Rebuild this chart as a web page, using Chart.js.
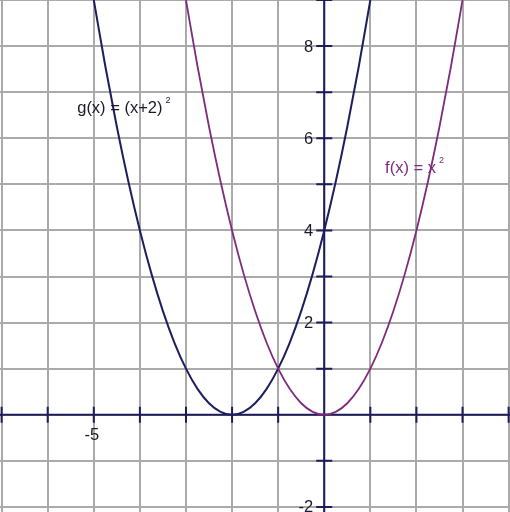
<!DOCTYPE html>
<html>
<head>
<meta charset="utf-8">
<script src="https://cdn.jsdelivr.net/npm/chart.js@4.4.1/dist/chart.umd.min.js"></script>
<style>
  html, body { margin: 0; padding: 0; background: #fff; }
  #wrap { width: 510px; height: 512px; }
</style>
</head>
<body>
<div id="wrap"><canvas id="chart"></canvas></div>
<script>
// f(x) = x^2, read at quarter steps
const fX = [-3, -2.75, -2.5, -2.25, -2, -1.75, -1.5, -1.25, -1, -0.75, -0.5, -0.25, 0,
            0.25, 0.5, 0.75, 1, 1.25, 1.5, 1.75, 2, 2.25, 2.5, 2.75, 3];
const fY = [9, 7.5625, 6.25, 5.0625, 4, 3.0625, 2.25, 1.5625, 1, 0.5625, 0.25, 0.0625, 0,
            0.0625, 0.25, 0.5625, 1, 1.5625, 2.25, 3.0625, 4, 5.0625, 6.25, 7.5625, 9];

// g(x) = (x+2)^2
const gX = [-5, -4.75, -4.5, -4.25, -4, -3.75, -3.5, -3.25, -3, -2.75, -2.5, -2.25, -2,
            -1.75, -1.5, -1.25, -1, -0.75, -0.5, -0.25, 0, 0.25, 0.5, 0.75, 1];
const gY = [9, 7.5625, 6.25, 5.0625, 4, 3.0625, 2.25, 1.5625, 1, 0.5625, 0.25, 0.0625, 0,
            0.0625, 0.25, 0.5625, 1, 1.5625, 2.25, 3.0625, 4, 5.0625, 6.25, 7.5625, 9];

const xGrid = [-7, -6, -5, -4, -3, -2, -1, 0, 1, 2, 3, 4];
const yGrid = [-2, -1, 0, 1, 2, 3, 4, 5, 6, 7, 8, 9];
const xLabels = [-5];
const yLabels = [8, 6, 4, 2, -2];

const AXIS = "#1c1c5a";
const F_COLOR = "#7e2a7e";
const G_COLOR = "#1e1e5e";
const FONT = "16.5px 'Liberation Sans', Arial, sans-serif";

const axesPlugin = {
  id: "axes",
  beforeDatasetsDraw(chart) {
    const { ctx, scales: { x, y } } = chart;
    const x0 = x.getPixelForValue(0), y0 = y.getPixelForValue(0);
    ctx.save();
    ctx.strokeStyle = AXIS;
    ctx.lineWidth = 2;
    ctx.beginPath();
    ctx.moveTo(x.left, y0); ctx.lineTo(x.right, y0);
    ctx.moveTo(x0, y.top); ctx.lineTo(x0, y.bottom);
    xGrid.forEach(v => {
      if (v === 0) return;
      const px = x.getPixelForValue(v);
      ctx.moveTo(px, y0 - 8); ctx.lineTo(px, y0 + 8);
    });
    yGrid.forEach(v => {
      if (v === 0) return;
      const py = y.getPixelForValue(v);
      ctx.moveTo(x0 - 8, py); ctx.lineTo(x0 + 8, py);
    });
    ctx.stroke();
    ctx.restore();
  },
  afterDraw(chart) {
    const { ctx, scales: { x, y } } = chart;
    const x0 = x.getPixelForValue(0), y0 = y.getPixelForValue(0);
    ctx.save();
    ctx.fillStyle = "#1a1a2a";
    ctx.font = FONT;
    ctx.textBaseline = "middle";
    ctx.textAlign = "center";
    xLabels.forEach(v => ctx.fillText(String(v), x.getPixelForValue(v) - 2, y0 + 21));
    ctx.textAlign = "right";
    yLabels.forEach(v => ctx.fillText(String(v), x0 - 11, y.getPixelForValue(v) + 1));

    function label(text, dx, dy, color) {
      const px = x.getPixelForValue(dx), py = y.getPixelForValue(dy);
      ctx.fillStyle = color;
      ctx.textAlign = "left";
      ctx.textBaseline = "alphabetic";
      ctx.font = FONT;
      ctx.fillText(text, px, py);
      const w = ctx.measureText(text).width;
      ctx.font = "9px 'Liberation Sans', Arial, sans-serif";
      ctx.fillText("2", px + w + 3, py - 10);
    }
    label("g(x) = (x+2)", -5.36, 6.55, "#1a1a2a");
    label("f(x) = x", 1.32, 5.25, F_COLOR);
    ctx.restore();
  }
};

new Chart(document.getElementById("chart"), {
  type: "scatter",
  data: {
    datasets: [
      {
        label: "f(x) = x²",
        data: fX.map((v, i) => ({ x: v, y: fY[i] })),
        showLine: true,
        borderColor: F_COLOR,
        borderWidth: 1.8,
        pointRadius: 0,
        cubicInterpolationMode: "monotone",
      },
      {
        label: "g(x) = (x+2)²",
        data: gX.map((v, i) => ({ x: v, y: gY[i] })),
        showLine: true,
        borderColor: G_COLOR,
        borderWidth: 2,
        pointRadius: 0,
        cubicInterpolationMode: "monotone",
      },
    ],
  },
  options: {
    responsive: true,
    maintainAspectRatio: false,
    animation: false,
    layout: { padding: 0 },
    plugins: { legend: { display: false }, tooltip: { enabled: false } },
    scales: {
      x: {
        type: "linear",
        min: -7.035,
        max: 4.03,
        afterBuildTicks: s => { s.ticks = xGrid.map(v => ({ value: v })); },
        ticks: { display: false },
        border: { display: false },
        grid: { color: "#aaaaaa", lineWidth: 2, drawTicks: false },
      },
      y: {
        type: "linear",
        min: -2.11,
        max: 9.0,
        afterBuildTicks: s => { s.ticks = yGrid.map(v => ({ value: v })); },
        ticks: { display: false },
        border: { display: false },
        grid: { color: "#aaaaaa", lineWidth: 2, drawTicks: false },
      },
    },
  },
  plugins: [axesPlugin],
});
</script>
</body>
</html>
